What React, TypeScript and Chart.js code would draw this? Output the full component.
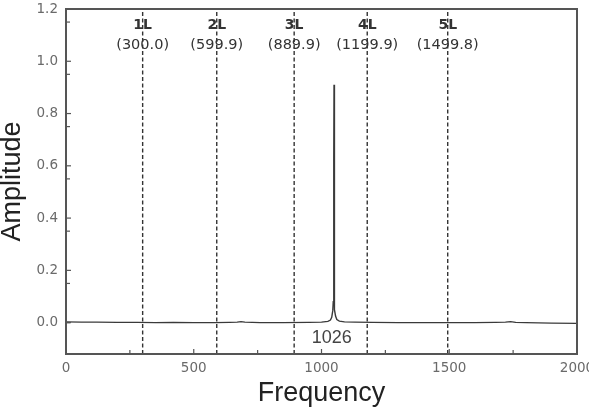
import React, { useEffect, useRef } from "react";
import { Chart, registerables } from "chart.js";

Chart.register(...registerables);

// Spectrum (frequency, amplitude)
const freq = [0, 60, 120, 200, 280, 350, 420, 500, 580, 640, 670, 685, 700, 760, 850, 950, 1000, 1025, 1035, 1040, 1044, 1046, 1047.5, 1048.5, 1049, 1049.5, 1050.5, 1052, 1055, 1060, 1070, 1090, 1130, 1200, 1300, 1400, 1500, 1600, 1680, 1720, 1740, 1760, 1800, 1900, 2000];
const amp = [0.003, 0.002, 0.002, 0.001, 0.001, 0.0, 0.001, 0.0, 0.0, 0.001, 0.002, 0.004, 0.002, 0.0, 0.0, 0.001, 0.002, 0.005, 0.01, 0.02, 0.045, 0.08, 0.2, 0.62, 0.91, 0.62, 0.12, 0.05, 0.025, 0.012, 0.006, 0.003, 0.002, 0.001, 0.0, 0.0, 0.0, 0.0, 0.001, 0.002, 0.004, 0.001, 0.0, -0.002, -0.003];

// Harmonic reference lines
const harmFreq = [300, 590, 893, 1179, 1494];
const harmNames = ["1L", "2L", "3L", "4L", "5L"];
const harmValues = ["(300.0)", "(599.9)", "(889.9)", "(1199.9)", "(1499.8)"];

// Peak annotation
const peakLabel = "1026";
const peakLabelPos = [1040, -0.057];

// Axes
const xTicks = [0, 500, 1000, 1500, 2000];
const yTicks = [0.0, 0.2, 0.4, 0.6, 0.8, 1.0, 1.2];
const xRange = [0, 2000];
const yRange = [-0.12, 1.2];
const xTitle = "Frequency";
const yTitle = "Amplitude";

export default function App() {
  const ref = useRef<HTMLCanvasElement | null>(null);

  useEffect(() => {
    if (!ref.current) return;
    const Y0 = yRange[0];
    const Y1 = yRange[1];

    const decor = {
      id: "decor",
      afterDatasetsDraw(chart: any) {
        const ctx = chart.ctx;
        const ca = chart.chartArea;
        const xs = chart.scales.x;
        const ys = chart.scales.y;
        ctx.save();
        // frame
        ctx.strokeStyle = "#555";
        ctx.lineWidth = 2;
        ctx.strokeRect(ca.left, ca.top, ca.right - ca.left, ca.bottom - ca.top);
        // inward ticks
        ctx.lineWidth = 1.2;
        ctx.strokeStyle = "#555";
        for (let i = 0; i < xTicks.length; i++) {
          const px = xs.getPixelForValue(xTicks[i]);
          ctx.beginPath();
          ctx.moveTo(px, ca.bottom);
          ctx.lineTo(px, ca.bottom - 5);
          ctx.stroke();
          if (i < xTicks.length - 1) {
            const mx = xs.getPixelForValue((xTicks[i] + xTicks[i + 1]) / 2);
            ctx.beginPath();
            ctx.moveTo(mx, ca.bottom);
            ctx.lineTo(mx, ca.bottom - 4);
            ctx.stroke();
          }
        }
        const yAll = [yTicks[0] - 0.1, ...yTicks];
        for (let i = 0; i < yTicks.length; i++) {
          const py = ys.getPixelForValue(yTicks[i]);
          ctx.beginPath();
          ctx.moveTo(ca.left, py);
          ctx.lineTo(ca.left + 5, py);
          ctx.stroke();
        }
        for (let i = 0; i < yAll.length - 1; i++) {
          const mv = (yAll[i] + yAll[i + 1]) / 2 + 0.05;
          if (mv > Y1 || mv < Y0) continue;
          const my = ys.getPixelForValue(mv);
          ctx.beginPath();
          ctx.moveTo(ca.left, my);
          ctx.lineTo(ca.left + 4, my);
          ctx.stroke();
        }
        // harmonic labels
        ctx.fillStyle = "#333";
        ctx.textAlign = "center";
        ctx.textBaseline = "middle";
        for (let i = 0; i < harmFreq.length; i++) {
          const px = xs.getPixelForValue(harmFreq[i]);
          ctx.font = "bold 14px 'DejaVu Sans'";
          ctx.fillText(harmNames[i], px, 25);
          ctx.font = "14.5px 'DejaVu Sans'";
          ctx.fillText(harmValues[i], px, 45);
        }
        // peak label
        ctx.fillStyle = "#444";
        ctx.font = "18px 'Liberation Sans'";
        ctx.fillText(peakLabel, xs.getPixelForValue(peakLabelPos[0]), ys.getPixelForValue(peakLabelPos[1]));
        // axis titles
        ctx.fillStyle = "#222";
        ctx.font = "27px 'Liberation Sans'";
        ctx.fillText(xTitle, (ca.left + ca.right) / 2, 394);
        ctx.translate(13, (ca.top + ca.bottom) / 2);
        ctx.rotate(-Math.PI / 2);
        ctx.fillText(yTitle, 0, 0);
        ctx.restore();
      },
    };

    const datasets: any[] = [
      {
        data: freq.map((f, i) => ({ x: f, y: amp[i] })),
        borderColor: "#3a3a3a",
        borderWidth: 1.4,
        pointRadius: 0,
        tension: 0,
      },
      ...harmFreq.map((f) => ({
        data: [
          { x: f, y: Y0 },
          { x: f, y: Y1 },
        ],
        borderColor: "#333",
        borderWidth: 1.4,
        borderDash: [4, 2.5],
        pointRadius: 0,
      })),
    ];

    const chart = new Chart(ref.current, {
      type: "line",
      data: { datasets },
      options: {
        responsive: false,
        animation: false,
        layout: { padding: { top: 9, right: 12, left: 0, bottom: 0 } },
        plugins: { legend: { display: false }, tooltip: { enabled: false } },
        scales: {
          x: {
            type: "linear",
            min: xRange[0],
            max: xRange[1],
            grid: { display: false, drawTicks: false },
            border: { display: false },
            afterBuildTicks: (s: any) => {
              s.ticks = xTicks.map((v) => ({ value: v }));
            },
            afterFit: (s: any) => {
              s.height = 54;
              s.paddingLeft = 0;
              s.paddingRight = 0;
            },
            ticks: {
              color: "#6a6a6a",
              font: { family: "'DejaVu Sans'", size: 13.5 },
              padding: 6,
              maxRotation: 0,
              autoSkip: false,
              callback: (v: any) => String(v),
            },
          },
          y: {
            type: "linear",
            min: Y0,
            max: Y1,
            grid: { display: false, drawTicks: false },
            border: { display: false },
            afterBuildTicks: (s: any) => {
              s.ticks = yTicks.map((v) => ({ value: v }));
            },
            afterFit: (s: any) => {
              s.width = 66;
              s.paddingTop = 0;
              s.paddingBottom = 0;
            },
            ticks: {
              color: "#6a6a6a",
              font: { family: "'DejaVu Sans'", size: 13.5 },
              padding: 8,
              autoSkip: false,
              callback: (v: any) => Number(v).toFixed(1),
            },
          },
        },
      },
      plugins: [decor],
    });
    return () => chart.destroy();
  }, []);

  return (
    <div style={{ position: "fixed", left: 0, top: 0, width: 589, height: 408, background: "#fff" }}>
      <canvas ref={ref} width={589} height={408} style={{ display: "block" }} />
    </div>
  );
}
